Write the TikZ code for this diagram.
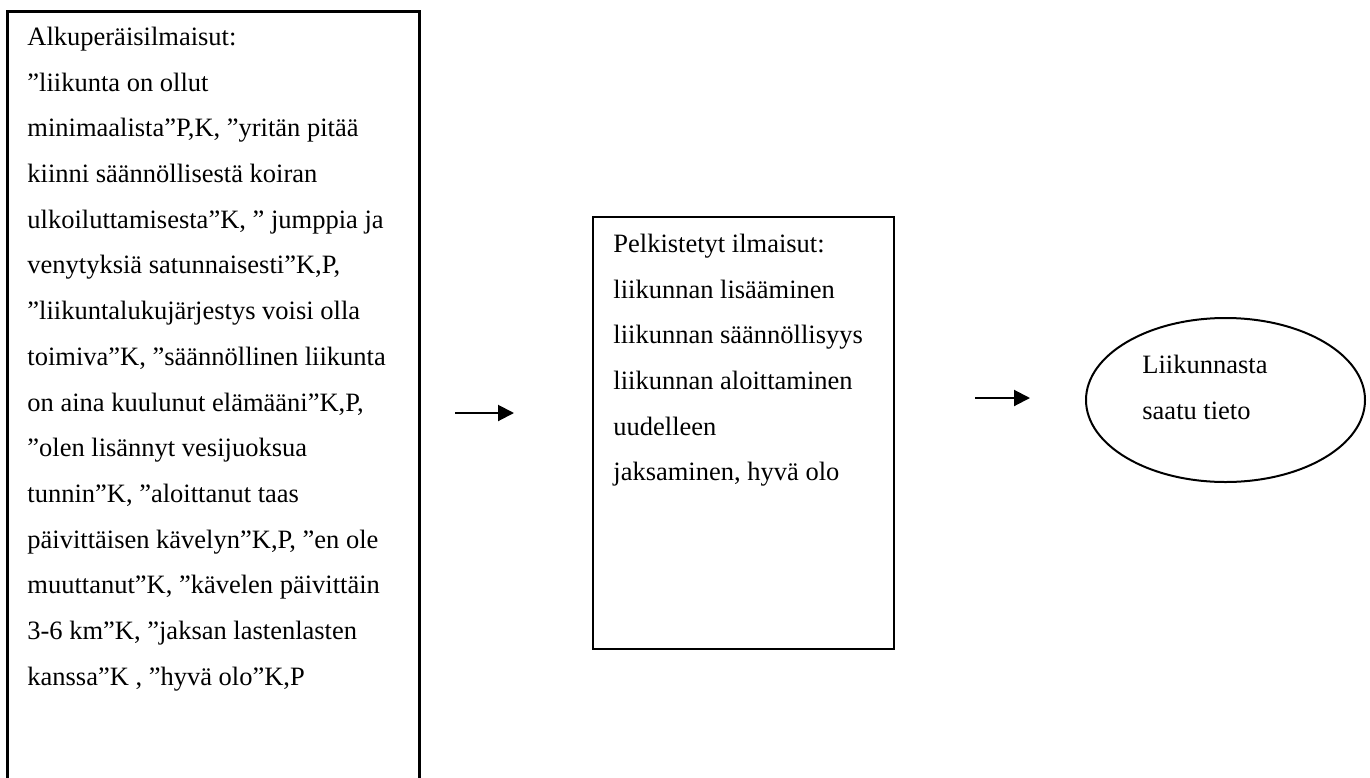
\documentclass[tikz,border=0pt]{standalone}
\usepackage{fontspec}
\setmainfont{Liberation Serif}
\usetikzlibrary{shapes.geometric,arrows.meta}

% first-line strut: the block's top lies 12pt above the first baseline
\newcommand{\firstline}{\rule{0pt}{12pt}}

\tikzset{
  bodytext/.style={inner sep=0pt, anchor=north west, align=left,
    font=\fontsize{13.25pt}{22.85pt}\selectfont},
  framebox/.style={draw=black, line width=1pt, inner sep=0pt, anchor=north west},
  flowarrow/.style={line width=1pt, -{Triangle[length=8pt,width=8pt]}},
  outcome/.style={draw=black, line width=1pt, ellipse, inner sep=0pt}
}

\begin{document}
\begin{tikzpicture}[x=0.5pt, y=-0.5pt]
  \useasboundingbox (0,0) rectangle (1370,777);

  % original expressions
  \node[framebox, line width=1.3pt, minimum width=206pt, minimum height=420pt] (orig) at (6,10) {};
  \node[bodytext] (origtext) at (27,21) {\firstline Alkuperäisilmaisut:\\
    ”liikunta on ollut\\
    minimaalista”P,K, ”yritän pitää\\
    kiinni säännöllisestä koiran\\
    ulkoiluttamisesta”K, ” jumppia ja\\
    venytyksiä satunnaisesti”K,P,\\
    ”liikuntalukujärjestys voisi olla\\
    toimiva”K, ”säännöllinen liikunta\\
    on aina kuulunut elämääni”K,P,\\
    ”olen lisännyt vesijuoksua\\
    tunnin”K, ”aloittanut taas\\
    päivittäisen kävelyn”K,P, ”en ole\\
    muuttanut”K, ”kävelen päivittäin\\
    3-6 km”K, ”jaksan lastenlasten\\
    kanssa”K , ”hyvä olo”K,P};

  % reduced expressions
  \node[framebox, minimum width=150.5pt, minimum height=216pt] (reduced) at (592,216) {};
  \node[bodytext] (reducedtext) at (613,228) {\firstline Pelkistetyt ilmaisut:\\
    liikunnan lisääminen\\
    liikunnan säännöllisyys\\
    liikunnan aloittaminen\\
    uudelleen\\
    jaksaminen, hyvä olo};

  % resulting category
  \node[outcome, minimum width=139.5pt, minimum height=82pt] (category) at (1225.5,400) {};
  \node[bodytext] (categorytext) at (1142,349) {\firstline Liikunnasta\\saatu tieto};

  % connecting arrows
  \coordinate (a1s) at (455,413);
  \coordinate (a1e) at (514,413);
  \coordinate (a2s) at (975,398);
  \coordinate (a2e) at (1030,398);
  \draw[flowarrow] (a1s) -- (a1e);
  \draw[flowarrow] (a2s) -- (a2e);
\end{tikzpicture}
\end{document}
